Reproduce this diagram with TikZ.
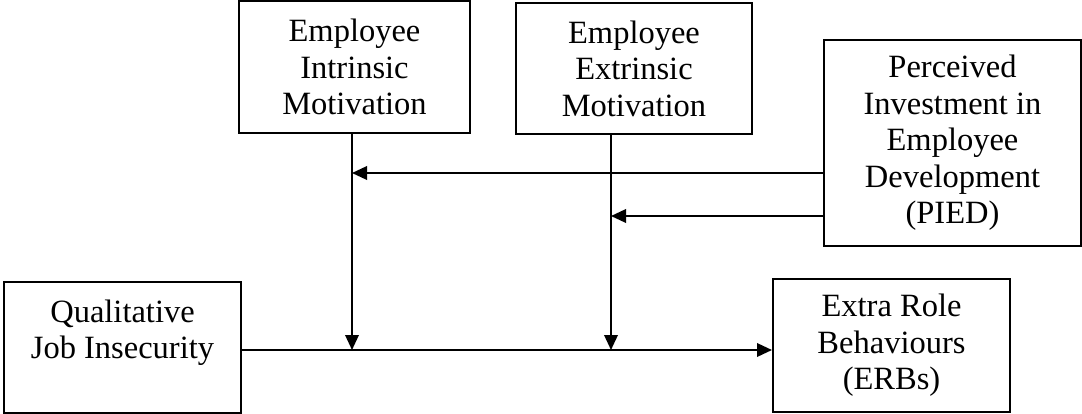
\documentclass[tikz,border=0pt]{standalone}
\usepackage{fontspec}
\setmainfont{Liberation Serif}
\usetikzlibrary{arrows.meta}
\usetikzlibrary{positioning}

\tikzset{
    varbox/.style={draw, line width=0.8pt, inner sep=0pt, align=center,
        font=\fontsize{13}{14.6}\selectfont},
    link/.style={line width=0.8pt, ->}
}

\begin{document}
\begin{tikzpicture}[x=0.4pt, y=-0.4pt, >={Triangle[length=6pt,width=5.4pt]}]
    \useasboundingbox (0,0) rectangle (1082,414);

    % Moderators and mediators
    \node[varbox, minimum width=92.4pt, minimum height=52.8pt] (intr) at (354.5,67) {Employee\\Intrinsic\\Motivation};
    \node[varbox, minimum width=94.4pt, minimum height=52.4pt] (extr) at (634,68.5) {Employee\\Extrinsic\\Motivation};
    \node[varbox, minimum width=102.8pt, minimum height=82.4pt] (pied) at (952.5,143) {Perceived\\Investment in\\Employee\\Development\\(PIED)};

    % Predictor and outcome
    \node[varbox, minimum width=94.8pt, minimum height=52.4pt] (qji) at (122.5,347.5) {Qualitative\\Job Insecurity\\\mbox{}};
    \node[varbox, minimum width=94.8pt, minimum height=53.2pt] (erb) at (891.5,345.5) {Extra Role\\Behaviours\\(ERBs)};

    % Points where arrows meet lines
    \coordinate (m1) at (352,350);
    \coordinate (m2) at (611,350);
    \coordinate (t1) at (352,173);
    \coordinate (t2) at (611,216);

    \draw[link] (qji.east |- m1) -- (erb.west |- m1);
    \draw[link] (m1 |- intr.south) -- (m1);
    \draw[link] (m2 |- extr.south) -- (m2);
    \draw[link] (pied.west |- t1) -- (t1);
    \draw[link] (pied.west |- t2) -- (t2);
\end{tikzpicture}
\end{document}
